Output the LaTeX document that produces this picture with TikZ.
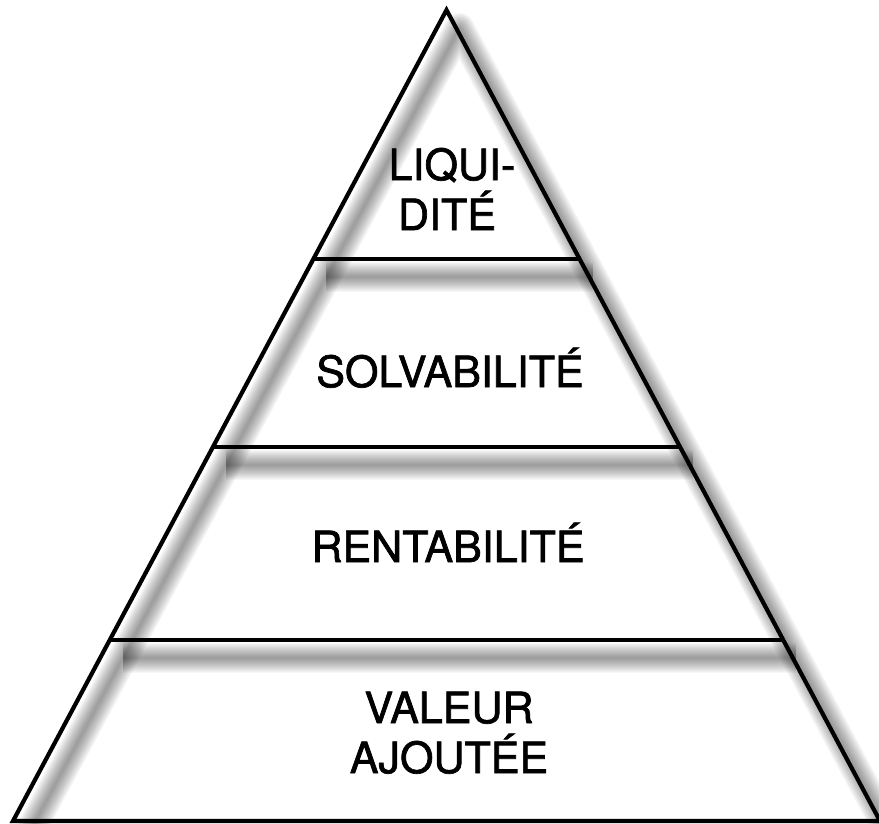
\documentclass[tikz,border=0pt]{standalone}
\usepackage{fontspec}
\setmainfont{TeX Gyre Heros}
\newfontfamily\labelfont[FakeBold=1.6]{TeX Gyre Heros}
\usetikzlibrary{calc}
\begin{document}
\begin{tikzpicture}[x=1pt,y=-1pt,
  edge/.style={line width=4.2pt,black,line join=miter},
  shade/.style={line width=#1,black,opacity=0.03,line join=round},
  label/.style={font=\labelfont\fontsize{43}{50}\selectfont,anchor=base,inner sep=0pt}]
\useasboundingbox (0,0) rectangle (879,823);
\coordinate (A) at (446.5,10);
\coordinate (BL) at (13,821);
\coordinate (BR) at (880,821);
\coordinate (L1) at ($(A)!0.307!(BL)$);
\coordinate (R1) at ($(A)!0.307!(BR)$);
\coordinate (L2) at ($(A)!0.5388!(BL)$);
\coordinate (R2) at ($(A)!0.5388!(BR)$);
\coordinate (L3) at ($(A)!0.7768!(BL)$);
\coordinate (R3) at ($(A)!0.7768!(BR)$);
% shadow
\begin{scope}[transform canvas={shift={(13pt,-18pt)}}]
\foreach \w in {30,28,...,2}{
  \draw[shade=\w pt] (BL) -- (A) -- (BR);
  \draw[shade=\w pt] (L1) -- (R1);
  \draw[shade=\w pt] (L2) -- (R2);
  \draw[shade=\w pt] (L3) -- (R3);
}
\end{scope}
% pyramid
\draw[edge] (BL) -- (A) -- (BR) -- cycle;
\draw[edge] (L1) -- (R1);
\draw[edge] (L2) -- (R2);
\draw[edge] (L3) -- (R3);
% labels
\node[label] (liq1) at (452,180) {LIQUI-};
\node[label] (liq2) at (447,230) {DITÉ};
\node[label] (solv) at (450,387) {SOLVABILITÉ};
\node[label] (rent) at (448,562) {RENTABILITÉ};
\node[label] (val1) at (449,723) {VALEUR};
\node[label] (val2) at (449,773) {AJOUTÉE};
\end{tikzpicture}
\end{document}
